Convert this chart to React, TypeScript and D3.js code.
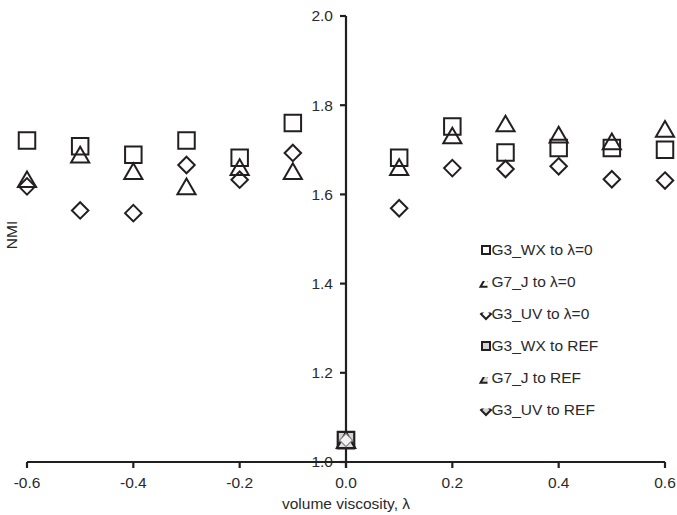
import React from "react";
import * as d3 from "d3";

const lambdas = [-0.6, -0.5, -0.4, -0.3, -0.2, -0.1, 0.1, 0.2, 0.3, 0.4, 0.5, 0.6];
const g3wxToZero = [1.721, 1.708, 1.689, 1.721, 1.682, 1.760, 1.682, 1.752, 1.694, 1.704, 1.704, 1.700];
const g7jToZero = [1.634, 1.689, 1.652, 1.618, 1.661, 1.652, 1.661, 1.732, 1.759, 1.734, 1.719, 1.747];
const g3uvToZero = [1.618, 1.564, 1.558, 1.666, 1.633, 1.693, 1.569, 1.659, 1.657, 1.663, 1.634, 1.631];
const refLambda = [0.0];
const g3wxToRef = [1.049];
const g7jToRef = [1.049];
const g3uvToRef = [1.049];
const xTicks = [-0.6, -0.4, -0.2, 0.0, 0.2, 0.4, 0.6];
const yTicks = [1.0, 1.2, 1.4, 1.6, 1.8, 2.0];
const legendLabels = [
  "G3_WX to λ=0",
  "G7_J to λ=0",
  "G3_UV to λ=0",
  "G3_WX to REF",
  "G7_J to REF",
  "G3_UV to REF",
];

const INK = "#231f20";
const TEXT = "#2a2a2a";
const FONT = "'Liberation Sans', Arial, sans-serif";

type Shape = "square" | "triangle" | "diamond";

function markerPath(shape: Shape, s: number): string {
  const h = s / 2;
  if (shape === "square") return `M${-h},${-h}H${h}V${h}H${-h}Z`;
  if (shape === "triangle") {
    const w = (s * 1.1) / 2;
    const th = (s * 0.95) / 2;
    return `M0,${-th}L${w},${th}L${-w},${th}Z`;
  }
  return `M0,${-h}L${h},0L0,${h}L${-h},0Z`;
}

export default function App() {
  const x = d3.scaleLinear().domain([-0.6, 0.6]).range([27, 665]);
  const y = d3.scaleLinear().domain([1.0, 2.0]).range([462, 16]);
  const x0 = x(0);
  const y0 = y(1.0);

  const seriesMain: { shape: Shape; vals: number[] }[] = [
    { shape: "square", vals: g3wxToZero },
    { shape: "triangle", vals: g7jToZero },
    { shape: "diamond", vals: g3uvToZero },
  ];
  const seriesRef: { shape: Shape; vals: number[]; fill: string }[] = [
    { shape: "square", vals: g3wxToRef, fill: "#d4d4d4" },
    { shape: "triangle", vals: g7jToRef, fill: "#e0e0e0" },
    { shape: "diamond", vals: g3uvToRef, fill: "#f2f2f2" },
  ];

  const legendX = 486;
  const legendY0 = 250;
  const legendStep = 32;
  const legendShapes: Shape[] = ["square", "triangle", "diamond", "square", "triangle", "diamond"];
  const legendFills = ["white", "white", "white", "#d4d4d4", "#d4d4d4", "#d4d4d4"];

  return (
    <svg width={677} height={515} style={{ position: "absolute", left: 0, top: 0, background: "white" }}>
      <defs>
        <clipPath id="clipTri">
          <rect x={-9} y={-1} width={10.5} height={10} />
        </clipPath>
        <clipPath id="clipDia">
          <rect x={-8} y={-1.5} width={16} height={10} />
        </clipPath>
      </defs>
      {yTicks.map((t) => (
        <text
          key={"yl" + t}
          x={x0 - 13}
          y={y(t)}
          dy="0.35em"
          textAnchor="end"
          fontFamily={FONT}
          fontSize={15.5}
          fill={TEXT}
        >
          {t.toFixed(1)}
        </text>
      ))}
      {xTicks.map((t) => (
        <text
          key={"xl" + t}
          x={x(t)}
          y={y0 + 26}
          textAnchor="middle"
          fontFamily={FONT}
          fontSize={15.5}
          fill={TEXT}
        >
          {t.toFixed(1)}
        </text>
      ))}
      <line x1={x(-0.6)} x2={x(0.6)} y1={y0} y2={y0} stroke={INK} strokeWidth={2.2} />
      <line x1={x0} x2={x0} y1={y(2.0)} y2={y0 + 6} stroke={INK} strokeWidth={2.2} />
      {xTicks.map((t) => (
        <line key={"xt" + t} x1={x(t)} x2={x(t)} y1={y0} y2={y0 + 6} stroke={INK} strokeWidth={2.2} />
      ))}
      {yTicks.map((t) => (
        <line key={"yt" + t} x1={x0 - 6} x2={x0} y1={y(t)} y2={y(t)} stroke={INK} strokeWidth={2.2} />
      ))}
      <text x={x0} y={509} textAnchor="middle" fontFamily={FONT} fontSize={15.5} fill={TEXT}>
        volume viscosity, λ
      </text>
      <text
        transform={`translate(17,${235}) rotate(-90)`}
        textAnchor="middle"
        fontFamily={FONT}
        fontSize={15.5}
        fill={TEXT}
      >
        NMI
      </text>
      {seriesMain.map((s) =>
        s.vals.map((v, i) => (
          <path
            key={s.shape + i}
            d={markerPath(s.shape, 16.5)}
            transform={`translate(${x(lambdas[i])},${y(v)})`}
            fill="none"
            stroke={INK}
            strokeWidth={2}
          />
        ))
      )}
      {seriesRef.map((s) =>
        s.vals.map((v, i) => (
          <path
            key={"ref" + s.shape + i}
            d={markerPath(s.shape, s.shape === "diamond" ? 13 : 16.5)}
            transform={`translate(${x(refLambda[i])},${y(v)})`}
            fill={s.fill}
            stroke={s.shape === "diamond" ? "#888" : INK}
            strokeWidth={s.shape === "diamond" ? 1.2 : 2.2}
          />
        ))
      )}
      {legendLabels.map((lab, i) => {
        const cy = legendY0 + i * legendStep;
        const shape = legendShapes[i];
        const clip = shape === "triangle" ? "url(#clipTri)" : shape === "diamond" ? "url(#clipDia)" : undefined;
        return (
          <g key={lab}>
            <g transform={`translate(${legendX},${cy})`}>
              <path
                d={markerPath(shape, shape === "square" ? 8 : 10)}
                fill={legendFills[i]}
                stroke={INK}
                strokeWidth={2}
                clipPath={clip}
              />
            </g>
            <text
              x={legendX + 5.5}
              y={cy}
              dy="0.35em"
              fontFamily={FONT}
              fontSize={15.5}
              fill={TEXT}
            >
              {lab}
            </text>
          </g>
        );
      })}
    </svg>
  );
}
